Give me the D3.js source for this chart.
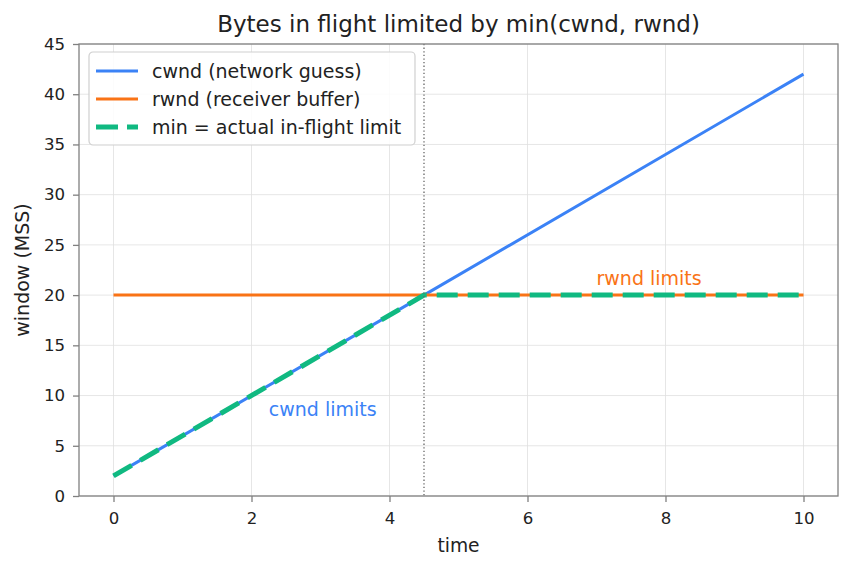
<!DOCTYPE html>
<html><head><meta charset="utf-8">
<script src="https://cdn.jsdelivr.net/npm/d3@7"></script>
<style>body{margin:0;background:#fff}svg{font-family:"DejaVu Sans",sans-serif}</style>
</head><body><svg id="c" width="852" height="569"></svg>
<script>
const tPoints = [0, 4.5, 10];
const cwndValues = [2, 20, 42];
const rwndValues = [20, 20, 20];
const minValues = [2, 20, 20];
const crossoverT = [4.5];
const xTicks = [0, 2, 4, 6, 8, 10];
const yTicks = [0, 5, 10, 15, 20, 25, 30, 35, 40, 45];
const seriesNames = ["cwnd (network guess)", "rwnd (receiver buffer)", "min = actual in-flight limit"];
const colors = ["#3b82f6", "#f97316", "#10b981"];
const annotations = [{text: "cwnd limits", t: 2.25, v: 8, color: "#3b82f6"}, {text: "rwnd limits", t: 7.0, v: 21, color: "#f97316"}];

const svg = d3.select("#c");
const L = 79, R = 838, T = 44, B = 496;
const x = d3.scaleLinear().domain([-0.5, 10.5]).range([L, R]);
const y = d3.scaleLinear().domain([0, 45]).range([B, T]);

// grid
svg.append("g").selectAll("line").data(xTicks).join("line")
  .attr("x1", d => x(d)).attr("x2", d => x(d)).attr("y1", T).attr("y2", B)
  .attr("stroke", "#e0e0e0").attr("stroke-width", 0.8);
svg.append("g").selectAll("line").data(yTicks).join("line")
  .attr("y1", d => y(d)).attr("y2", d => y(d)).attr("x1", L).attr("x2", R)
  .attr("stroke", "#e0e0e0").attr("stroke-width", 0.8);

const line = d3.line().x(d => x(d[0])).y(d => y(d[1]));
const mk = vals => tPoints.map((t, i) => [t, vals[i]]);

svg.append("path").attr("d", line(mk(cwndValues))).attr("fill", "none").attr("stroke", colors[0]).attr("stroke-width", 3);
svg.append("path").attr("d", line(mk(rwndValues))).attr("fill", "none").attr("stroke", colors[1]).attr("stroke-width", 3);
svg.append("path").attr("d", line(mk(minValues))).attr("fill", "none").attr("stroke", colors[2]).attr("stroke-width", 5).attr("stroke-dasharray", "21,10");

svg.selectAll(".vl").data(crossoverT).join("line")
  .attr("x1", d => x(d)).attr("x2", d => x(d)).attr("y1", T).attr("y2", B)
  .attr("stroke", "#666").attr("stroke-width", 1.3).attr("stroke-dasharray", "1.3,2.3");

svg.selectAll(".ann").data(annotations).join("text")
  .attr("x", d => x(d.t)).attr("y", d => y(d.v)).attr("fill", d => d.color)
  .attr("font-size", 19).text(d => d.text);

// axes
const xa = svg.append("g").attr("transform", `translate(0,${B})`).call(d3.axisBottom(x).tickValues(xTicks).tickSize(6).tickPadding(10));
const ya = svg.append("g").attr("transform", `translate(${L},0)`).call(d3.axisLeft(y).tickValues(yTicks).tickSize(6).tickPadding(8));
[xa, ya].forEach(a => {
  a.select(".domain").remove();
  a.selectAll(".tick line").attr("stroke", "#808080").attr("stroke-width", 1.3);
  a.selectAll(".tick text").attr("font-size", 16.6).attr("fill", "#222").attr("font-family", "DejaVu Sans");
});
svg.append("rect").attr("x", L).attr("y", T).attr("width", R - L).attr("height", B - T)
  .attr("fill", "none").attr("stroke", "#808080").attr("stroke-width", 1.3);

svg.append("text").attr("x", (L + R) / 2).attr("y", 32).attr("text-anchor", "middle").attr("font-size", 23).attr("fill", "#222")
  .text("Bytes in flight limited by min(cwnd, rwnd)");
svg.append("text").attr("x", (L + R) / 2).attr("y", 552).attr("text-anchor", "middle").attr("font-size", 18.7).attr("fill", "#222").text("time");
svg.append("text").attr("transform", `translate(29,${(T + B) / 2}) rotate(-90)`).attr("text-anchor", "middle").attr("font-size", 19).attr("fill", "#222").text("window (MSS)");

// legend
const lg = svg.append("g").attr("transform", "translate(89,52)");
lg.append("rect").attr("width", 326).attr("height", 93).attr("rx", 4).attr("fill", "#fff").attr("fill-opacity", 0.85).attr("stroke", "#d0d0d0").attr("stroke-width", 1.2);
const rows = lg.selectAll(".r").data(seriesNames).join("g").attr("transform", (d, i) => `translate(0,${19 + i * 28})`);
rows.append("line").attr("x1", 7).attr("x2", 49).attr("stroke", (d, i) => colors[i])
  .attr("stroke-width", (d, i) => i === 2 ? 5 : 3).attr("stroke-dasharray", (d, i) => i === 2 ? "22,9" : null);
rows.append("text").attr("x", 63).attr("y", 6.5).attr("font-size", 19).attr("fill", "#222").text(d => d);
</script></body></html>
